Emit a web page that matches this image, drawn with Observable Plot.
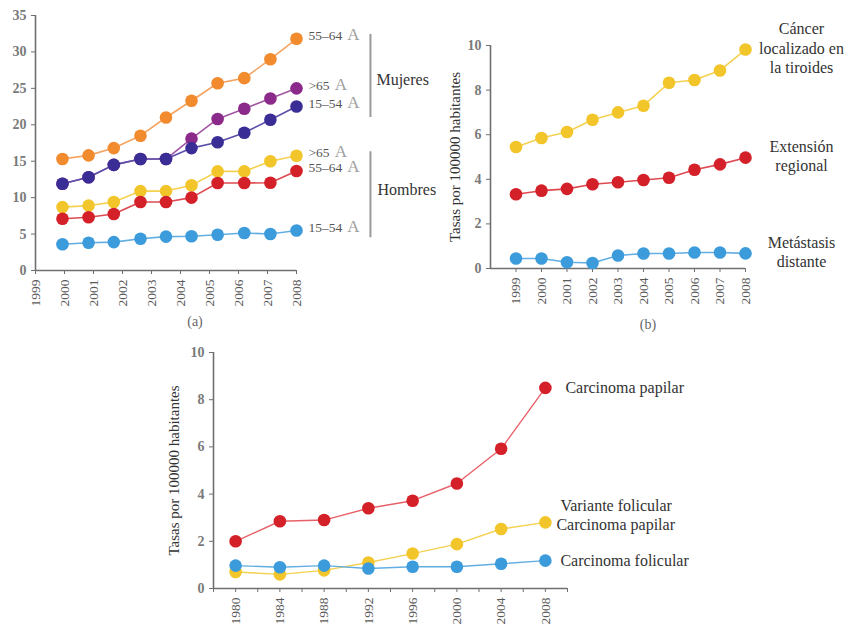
<!DOCTYPE html>
<html><head><meta charset="utf-8">
<script src="https://cdn.jsdelivr.net/npm/d3@7"></script>
<script src="https://cdn.jsdelivr.net/npm/@observablehq/plot@0.6"></script>
<style>
body{margin:0;background:#fff;}
#wrap{position:relative;width:850px;height:627px;overflow:hidden;background:#fff;}
.panel{position:absolute;}
.panel svg{max-width:none!important;overflow:visible;}
.panel svg [aria-label="x-axis tick label"] text,
.panel svg [aria-label="x-axis tick label"]{font-size:13.5px;font-family:"Liberation Serif",serif;fill:#5a5a5a;}
.panel svg [aria-label="y-axis tick label"] text,
.panel svg [aria-label="y-axis tick label"]{font-size:14px;font-family:"Liberation Serif",serif;fill:#7a7a7a;font-weight:bold;}
.cap{position:absolute;font:14px "Liberation Serif",serif;color:#666;transform:translate(-50%,-50%);}
</style></head>
<body><div id="wrap">
<div id="pa" class="panel" style="left:0;top:0;width:440px;height:340px"></div>
<div id="pb" class="panel" style="left:430px;top:0;width:420px;height:340px"></div>
<div id="pc" class="panel" style="left:160px;top:330px;width:560px;height:297px"></div>
<div class="cap" style="left:195px;top:322px">(a)</div>
<div class="cap" style="left:648px;top:325px">(b)</div>
</div>
<script>
// ---------- Panel (a) data ----------
const tickYearsA = [1999, 2000, 2001, 2002, 2003, 2004, 2005, 2006, 2007, 2008];
const pointYearsA = [1999.93, 2000.83, 2001.7, 2002.62, 2003.5, 2004.38, 2005.28, 2006.2, 2007.1, 2008];
const seriesKeysA = ["M 55–64", "M >65", "M 15–54", "H >65", "H 55–64", "H 15–54"];
const seriesLabelsA = ["55–64 A", ">65 A", "15–54 A", ">65 A", "55–64 A", "15–54 A"];
const mujeres5564 = [15.3, 15.8, 16.8, 18.5, 21.0, 23.3, 25.7, 26.4, 29.0, 31.8];
const mujeres65   = [11.9, 12.8, 14.5, 15.3, 15.3, 18.1, 20.8, 22.2, 23.6, 25.0];
const mujeres1554 = [11.9, 12.8, 14.5, 15.3, 15.3, 16.8, 17.6, 18.9, 20.7, 22.5];
const hombres65   = [8.7, 8.9, 9.4, 10.9, 10.9, 11.7, 13.6, 13.6, 15.0, 15.75];
const hombres5564 = [7.1, 7.3, 7.75, 9.4, 9.4, 10.0, 12.0, 12.0, 12.05, 13.65];
const hombres1554 = [3.6, 3.8, 3.9, 4.35, 4.65, 4.7, 4.9, 5.15, 5.0, 5.5];
const groupLabelsA = ["Mujeres", "Hombres"];

// ---------- Panel (b) data ----------
const yearsB = [1999, 2000, 2001, 2002, 2003, 2004, 2005, 2006, 2007, 2008];
const seriesKeysB = ["Cáncer\nlocalizado en\nla tiroides", "Extensión\nregional", "Metástasis\ndistante"];
const localizado = [5.45, 5.85, 6.12, 6.67, 7.0, 7.3, 8.33, 8.45, 8.88, 9.82];
const regional   = [3.33, 3.49, 3.57, 3.78, 3.87, 3.97, 4.07, 4.43, 4.67, 4.97];
const distante   = [0.45, 0.45, 0.28, 0.25, 0.58, 0.67, 0.67, 0.72, 0.72, 0.68];

// ---------- Panel (c) data ----------
const yearsC = [1980, 1984, 1988, 1992, 1996, 2000, 2004, 2008];
const tickYearsC = [1978, 1980, 1982, 1984, 1986, 1988, 1990, 1992, 1994, 1996, 1998, 2000, 2002, 2004, 2006, 2008, 2010];
const seriesKeysC = ["Carcinoma papilar", "Variante folicular", "Carcinoma folicular"];
const papilar    = [2.0, 2.85, 2.9, 3.4, 3.72, 4.45, 5.92, 8.5];
const varFolic   = [0.7, 0.6, 0.77, 1.1, 1.48, 1.88, 2.52, 2.8];
const folicular  = [0.97, 0.9, 0.97, 0.85, 0.92, 0.92, 1.05, 1.18];
const yLabel = "Tasas por 100000 habitantes";

// ---------- styles ----------
const font = "Liberation Serif";
const dotColorsA = ["#F28A2E", "#8B2A8B", "#3A2D96", "#F2C52B", "#D42029", "#3B9BDB"];
const lineColorsA = ["#F5A461", "#A257A2", "#5A4FAA", "#F4D150", "#DE4A51", "#62AEE2"];
const axisColor = "#6f6f6f";

function rows(keys, xs, vals) {
  return keys.flatMap((k, j) => vals[j].map((v, i) => ({series: k, x: xs[i], y: v})));
}
function lasts(keys, xs, vals, labels) {
  return keys.map((k, j) => ({series: k, x: xs[xs.length - 1], y: vals[j][vals[j].length - 1], label: labels ? labels[j] : k}));
}

// ---------- Panel (a) ----------
const valsA = [mujeres5564, mujeres65, mujeres1554, hombres65, hombres5564, hombres1554];
const dataA = rows(seriesKeysA, pointYearsA, valsA);
const lastA = lasts(seriesKeysA, pointYearsA, valsA, seriesLabelsA);
const bracketX = 2010.55;
const svgA = Plot.plot({
  width: 440, height: 340,
  marginLeft: 35, marginRight: 144, marginTop: 15, marginBottom: 70,
  style: {fontFamily: font, fontSize: "13px", color: axisColor, background: "transparent"},
  x: {domain: [1999, 2008], ticks: tickYearsA, tickFormat: d => String(d), tickRotate: -90, tickSize: 4, label: null},
  y: {domain: [0, 35], ticks: [0, 5, 10, 15, 20, 25, 30, 35], tickSize: 4, label: null},
  color: {domain: seriesKeysA, range: dotColorsA},
  marks: [
    Plot.ruleX([1999], {y1: 0, y2: 35, stroke: axisColor, strokeWidth: 1.6}),
    Plot.ruleY([0], {x1: 1999, x2: 2008, stroke: axisColor, strokeWidth: 1.6}),
    ...seriesKeysA.map((k, j) => Plot.line(dataA.filter(d => d.series === k), {x: "x", y: "y", stroke: lineColorsA[j], strokeWidth: 1.6})),
    Plot.dot(dataA, {x: "x", y: "y", fill: "series", r: 6.3}),
    Plot.text(lastA, {x: "x", y: "y", text: "label", dx: 12, dy: -3, textAnchor: "start", fill: "#555", fontSize: 13.5, fontFamily: font}),
    Plot.ruleX([bracketX], {y1: 32.4, y2: 21.0, stroke: "#9a9a9a", strokeWidth: 2}),
    Plot.ruleX([bracketX], {y1: 16.3, y2: 4.5, stroke: "#9a9a9a", strokeWidth: 2}),
    Plot.text([groupLabelsA[0]], {x: bracketX, y: 26.2, text: d => d, dx: 6, textAnchor: "start", fill: "#333", fontSize: 16, fontFamily: font}),
    Plot.text([groupLabelsA[1]], {x: bracketX, y: 11.0, text: d => d, dx: 7, textAnchor: "start", fill: "#333", fontSize: 16, fontFamily: font})
  ]
});
document.getElementById("pa").appendChild(svgA);
d3.select(svgA).selectAll("text").each(function () {
  const t = this.textContent;
  if (this.childElementCount === 0 && / A$/.test(t)) {
    const s = d3.select(this);
    s.text(null);
    s.append("tspan").text(t.slice(0, -2));
    s.append("tspan").attr("dx", 5).attr("fill", "#a0a0a0").attr("font-size", "17px").text("A");
  }
});

// ---------- Panel (b) ----------
const valsB = [localizado, regional, distante];
const dataB = rows(seriesKeysB, yearsB, valsB);
const lastB = lasts(seriesKeysB, yearsB, valsB);
const dotColorsB = ["#F2C52B", "#D42029", "#3B9BDB"];
const lineColorsB = ["#F4D150", "#DE4A51", "#62AEE2"];
const svgB = Plot.plot({
  width: 420, height: 340,
  marginLeft: 60, marginRight: 105, marginTop: 45, marginBottom: 72,
  style: {fontFamily: font, fontSize: "13px", color: axisColor, background: "transparent"},
  x: {domain: [1998, 2008], ticks: yearsB, tickFormat: d => String(d), tickRotate: -90, tickSize: 4, label: null},
  y: {domain: [0, 10], ticks: [0, 2, 4, 6, 8, 10], tickSize: 4, label: null},
  color: {domain: seriesKeysB, range: dotColorsB},
  marks: [
    Plot.ruleX([1998], {y1: 0, y2: 10, stroke: axisColor, strokeWidth: 1.6}),
    Plot.ruleY([0], {x1: 1998, x2: 2008, stroke: axisColor, strokeWidth: 1.6}),
    ...seriesKeysB.map((k, j) => Plot.line(dataB.filter(d => d.series === k), {x: "x", y: "y", stroke: lineColorsB[j], strokeWidth: 1.6})),
    Plot.dot(dataB, {x: "x", y: "y", fill: "series", r: 6.3}),
    Plot.text(lastB, {x: "x", y: "y", text: "label", dx: 56, dy: -2, textAnchor: "middle", lineAnchor: "middle", lineHeight: 1.2, fill: "#333", fontSize: 16, fontFamily: font}),
    Plot.text([yLabel], {frameAnchor: "left", text: d => d, rotate: -90, dx: -35, textAnchor: "middle", lineAnchor: "middle", fill: "#333", fontSize: 15, fontFamily: font})
  ]
});
document.getElementById("pb").appendChild(svgB);

// ---------- Panel (c) ----------
const valsC = [papilar, varFolic, folicular];
const dataC = rows(seriesKeysC, yearsC, valsC);
const lastC = lasts(seriesKeysC, yearsC, valsC);
const dotColorsC = ["#D42029", "#F2C52B", "#3B9BDB"];
const lineColorsC = ["#E86169", "#F4D150", "#62AEE2"];
const svgC = Plot.plot({
  width: 560, height: 297,
  marginLeft: 53, marginRight: 153, marginTop: 22, marginBottom: 39,
  style: {fontFamily: font, fontSize: "13px", color: axisColor, background: "transparent"},
  x: {domain: [1978, 2010], ticks: tickYearsC, tickFormat: d => ((d - 1980) % 4 === 0 ? String(d) : ""), tickRotate: -90, tickSize: 4, label: null},
  y: {domain: [0, 10], ticks: [0, 2, 4, 6, 8, 10], tickSize: 4, label: null},
  color: {domain: seriesKeysC, range: dotColorsC},
  marks: [
    Plot.ruleX([1978], {y1: 0, y2: 10, stroke: axisColor, strokeWidth: 1.6}),
    Plot.ruleY([0], {x1: 1978, x2: 2010, stroke: axisColor, strokeWidth: 1.6}),
    ...seriesKeysC.map((k, j) => Plot.line(dataC.filter(d => d.series === k), {x: "x", y: "y", stroke: lineColorsC[j], strokeWidth: 1.4})),
    Plot.dot(dataC, {x: "x", y: "y", fill: "series", r: 6.3}),
    Plot.text([lastC[0]], {x: "x", y: "y", text: "label", dx: 20, textAnchor: "start", fill: "#333", fontSize: 16, fontFamily: font}),
    Plot.text([lastC[1]], {x: "x", y: "y", text: d => "Variante folicular", dx: 15, dy: -17, textAnchor: "start", fill: "#333", fontSize: 16, fontFamily: font}),
    Plot.text([lastC[1]], {x: "x", y: "y", text: d => "Carcinoma papilar", dx: 11, dy: 2, textAnchor: "start", fill: "#333", fontSize: 16, fontFamily: font}),
    Plot.text([lastC[2]], {x: "x", y: "y", text: "label", dx: 15, textAnchor: "start", fill: "#333", fontSize: 16, fontFamily: font}),
    Plot.text([yLabel], {frameAnchor: "left", text: d => d, rotate: -90, dx: -39, textAnchor: "middle", lineAnchor: "middle", fill: "#333", fontSize: 15, fontFamily: font})
  ]
});
document.getElementById("pc").appendChild(svgC);
</script>
</body></html>
